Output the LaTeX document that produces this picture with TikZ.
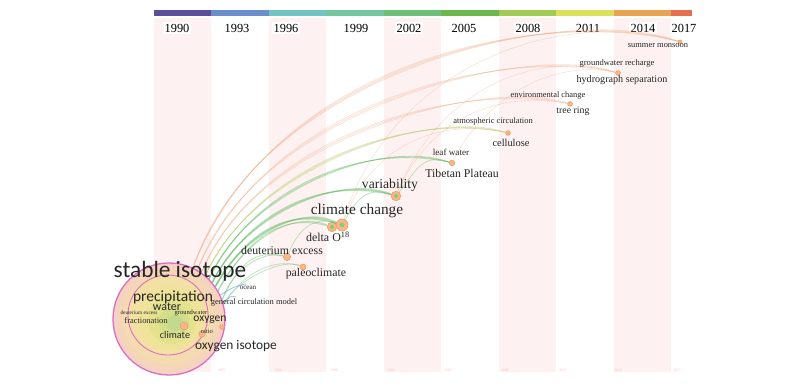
\documentclass[tikz,border=0pt]{standalone}
\usepackage{fontspec}
\setmainfont{Liberation Serif}
\newfontfamily\calib{Carlito}
\definecolor{barA}{HTML}{5B4E9C}
\definecolor{barB}{HTML}{6B8FCD}
\definecolor{barC}{HTML}{71C4C6}
\definecolor{barD}{HTML}{74C6A0}
\definecolor{barE}{HTML}{6CC07A}
\definecolor{barF}{HTML}{6CB84C}
\definecolor{barG}{HTML}{A2CB55}
\definecolor{barH}{HTML}{DDE05A}
\definecolor{barI}{HTML}{E9A453}
\definecolor{barJ}{HTML}{E5704F}
\definecolor{stripe}{HTML}{FEF1F1}
\definecolor{hubpink}{HTML}{D96BC4}
\definecolor{ringA}{HTML}{F6D2C2}
\definecolor{ringB}{HTML}{F5D6B8}
\definecolor{ringC}{HTML}{F4DBB0}
\definecolor{ringD}{HTML}{F3E0A4}
\definecolor{ringE}{HTML}{EFE39A}
\definecolor{ringF}{HTML}{E4E28E}
\definecolor{ringG}{HTML}{D3DD8A}
\definecolor{ringH}{HTML}{C2D98E}
\definecolor{dotorange}{HTML}{F5B886}
\definecolor{dotedge}{HTML}{EE9A66}
\definecolor{dotgreen}{HTML}{8CC97A}
\definecolor{arcgreen}{HTML}{5DB85F}
\definecolor{arcolive}{HTML}{B5CC6A}
\definecolor{arcorange}{HTML}{EE9F72}
\definecolor{arcblue}{HTML}{5E9FDB}

\begin{document}
\begin{tikzpicture}[x=0.025cm,y=-0.025cm,
  kw/.style={inner sep=0pt,text=black!85,font=\fontsize{#1}{#1}\selectfont},
  kws/.style={inner sep=0pt,text=black!85,font=\calib\fontsize{#1}{#1}\selectfont},
  yearlab/.style={fill=white,inner sep=1.5pt,font=\fontsize{8.8}{9}\selectfont},
  tinyyear/.style={inner sep=0pt,text=red!25,font=\fontsize{2.6}{3}\selectfont},
  cited/.style={circle,inner sep=0pt,minimum size=#1,fill=dotorange,draw=dotedge,line width=0.4pt},
  garc/.style={draw=arcgreen,draw opacity=0.4,line width=#1},
  yarc/.style={draw=arcolive,draw opacity=0.45,line width=#1},
  oarc/.style={draw=arcorange,draw opacity=0.3,line width=#1},
  barc/.style={draw=arcblue,draw opacity=0.6,line width=#1}]

\useasboundingbox[fill=white] (0,0) rectangle (800,385);

% time zones
\foreach \xa in {153.5,268.5,383.5,498.5,613.5}
  \fill[stripe] (\xa,18) rectangle ++(57.5,354);
\foreach \c [count=\i from 0] in {barA,barB,barC,barD,barE,barF,barG,barH,barI}
  \fill[\c] (153.5+57.5*\i,10) rectangle ++(57.5,6);
\fill[barJ] (671,10) rectangle (692,16);
\foreach \yr/\xp in {1990/177,1993/237,1996/286,1999/356,2002/409,2005/464,2008/528,2011/588,2014/643,2017/684}
  \node[yearlab] (y\yr) at (\xp,28) {\yr};
\foreach \yr/\xp in {1993/221,1996/278,1999/334,2002/391,2005/448,2008/505,2011/563,2014/618,2017/677}
  \node[tinyyear] (b\yr) at (\xp,370) {\yr};

% stable isotope cluster
\node[circle,minimum size=2.8cm,inner sep=0pt,fill=ringA,draw=hubpink,line width=0.9pt] (hub) at (169,319) {};
\fill[ringB] (hub) circle (1.27cm);
\fill[ringC] (hub) circle (1.14cm);
\draw[hubpink,line width=0.6pt,fill=ringD] (168,315) circle (1.0cm);
\fill[ringE] (170,318) circle (0.8cm);
\fill[ringF] (172,320) circle (0.6cm);
\fill[ringG] (174,322) circle (0.38cm);
\fill[ringH] (175,323) circle (0.2cm);
\node[cited=0.2cm] (co1) at (184,326) {};
\node[cited=0.16cm] (co2) at (202,334) {};
\node[cited=0.12cm] (co3) at (222,327) {};

% cited keywords
\node[cited=0.30cm] (cc) at (342,225) {};
\node[cited=0.24cm] (del) at (332,227) {};
\node[cited=0.24cm] (var) at (396,196) {};
\node[cited=0.18cm] (dex) at (287,257) {};
\node[cited=0.15cm] (pal) at (303,267) {};
\node[cited=0.14cm] (tib) at (452,163) {};
\node[cited=0.12cm] (cel) at (508,133) {};
\node[cited=0.12cm] (trr) at (570,104) {};
\node[cited=0.12cm] (hyd) at (618,73) {};
\node[cited=0.10cm] (smd) at (680,42) {};
\fill[dotgreen] (cc) circle (0.06cm);
\fill[dotgreen] (del) circle (0.05cm);
\fill[dotgreen] (var) circle (0.05cm);
\coordinate (ocn) at (246,284);
\coordinate (gcm) at (236,297);

% co-occurrence arcs
\foreach \d in {-10,-4,2,8}
  \draw[oarc=0.5] (hub.65) .. controls +(77+\d,-208-\d) and +(-120-\d,-37+\d/2) .. (smd);
\foreach \d in {-8,0,8}
  \draw[oarc=0.5] (hub.60) .. controls +(68+\d,-170-\d) and +(-98-\d,-28+\d/2) .. (hyd);
\foreach \d in {-8,0,8}
  \draw[oarc=0.5] (hub.55) .. controls +(59+\d,-143-\d) and +(-90-\d,-24+\d/2) .. (trr);
\foreach \d in {-6,0,6}
  \draw[yarc=0.5] (hub.50) .. controls +(50+\d,-111-\d) and +(-88-\d,-23+\d/2) .. (cel);
\foreach \d in {-6,0,6}
  \draw[garc=0.6] (hub.45) .. controls +(41+\d,-89-\d) and +(-82-\d,-23+\d/2) .. (tib);
\foreach \d in {-6,0,6}
  \draw[garc=0.8] (hub.40) .. controls +(33+\d,-68-\d) and +(-66-\d,-21+\d/2) .. (var);
\foreach \d in {-6,0,6}
  \draw[garc=0.9] (hub.35) .. controls +(25+\d,-47-\d) and +(-52-\d,-20+\d/2) .. (cc);
\foreach \d in {-4,4}
  \draw[garc=0.7] (hub.30) .. controls +(22+\d,-41-\d) and +(-52-\d,-17+\d/2) .. (del);
\foreach \d in {-4,4}
  \draw[garc=0.6] (hub.20) .. controls +(14+\d,-35-\d) and +(-27-\d,-7) .. (dex);
\foreach \d in {-4,4}
  \draw[garc=0.5] (hub.15) .. controls +(17+\d,-30-\d) and +(-23-\d,-9) .. (pal);
\draw[garc=0.5] (dex) .. controls +(10,-25) and +(-30,-10) .. (cc);
\draw[garc=0.6] (cc) .. controls +(15,-25) and +(-30,-10) .. (var);
\draw[garc=0.5] (var) .. controls +(20,-25) and +(-30,-10) .. (tib);
\draw[oarc=0.4] (cc) .. controls +(30,-80) and +(-70,-15) .. (cel);
\draw[oarc=0.4] (var) .. controls +(30,-70) and +(-80,-15) .. (trr);
\draw[oarc=0.4] (var) .. controls +(40,-100) and +(-90,-25) .. (hyd);
\draw[oarc=0.4] (tib) .. controls +(30,-60) and +(-70,-15) .. (hyd);
\draw[oarc=0.4] (cc) .. controls +(50,-160) and +(-120,-35) .. (smd);
\draw[barc=0.6] (hub.25) .. controls +(10,-6) and +(-12,2) .. (ocn);
\draw[barc=0.6] (hub.18) .. controls +(8,-3) and +(-8,-2) .. (gcm);

% labels
\node[kws=16.6] (lsi) at (180,271) {stable isotope};
\node[kws=11] (lpr) at (173,297) {precipitation};
\node[kws=8.5] (lwa) at (167,307) {water};
\node[kw=3.8] (lde) at (139,313) {deuterium excess};
\node[kw=4.6] (lgw) at (191,313) {groundwater};
\node[kw=6] (lfr) at (146,321) {fractionation};
\node[kws=8.2] (lox) at (210,320) {oxygen};
\node[kw=4.6] (lra) at (207,331) {ratio};
\node[kws=7.2] (lcl) at (175,335) {climate};
\node[kws=9.5] (loi) at (236,346) {oxygen isotope};
\node[kw=6] (lgc) at (254,302) {general circulation model};
\node[kw=5] (loc) at (248,288) {ocean};
\node[kw=8.4] (lpa) at (316,274) {paleoclimate};
\node[kw=8.4] (ldx) at (282,250) {deuterium excess};
\node[kw=8.5] (ldo) at (328,237) {delta O\textsuperscript{18}};
\node[kw=10.9] (lcc) at (357,211) {climate change};
\node[kw=9.7] (lva) at (390,185) {variability};
\node[kw=8.4] (lti) at (462,173) {Tibetan Plateau};
\node[kw=6.5] (llw) at (451,152) {leaf water};
\node[kw=6] (lac) at (493,121) {atmospheric circulation};
\node[kw=7.4] (lce) at (511,143) {cellulose};
\node[kw=6] (lec) at (548,95) {environmental change};
\node[kw=7] (ltr) at (573,111) {tree ring};
\node[kw=6.1] (lgr) at (617,63) {groundwater recharge};
\node[kw=7.2] (lhs) at (622,80) {hydrograph separation};
\node[kw=6] (lsm) at (658,46) {summer monsoon};
\end{tikzpicture}
\end{document}
